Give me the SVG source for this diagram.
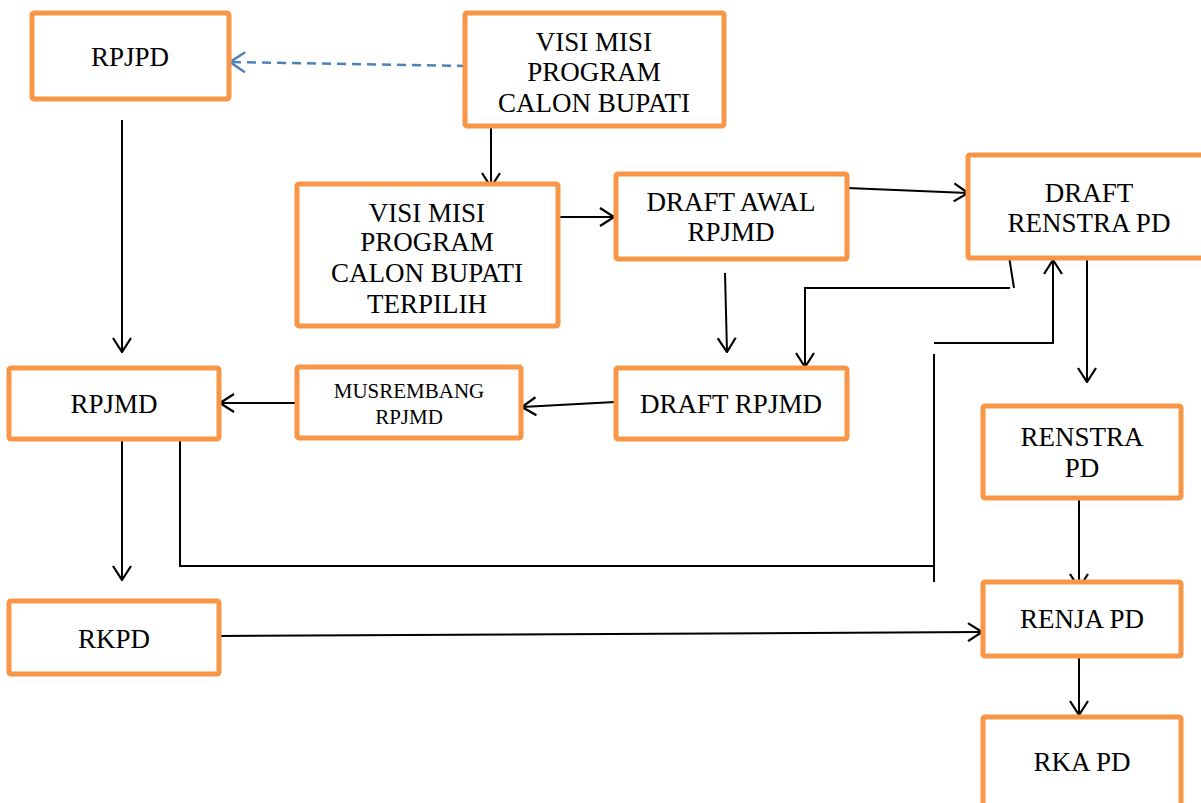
<svg xmlns="http://www.w3.org/2000/svg" width="1201" height="803" viewBox="0 0 1201 803">
<style>
.box{fill:#fff;stroke:#F79646;stroke-width:5;}
.t{font-family:"Liberation Serif","Times New Roman",serif;font-size:27px;fill:#000;text-anchor:middle;}
.ts{font-size:21px;}
.c{fill:none;stroke:#000;stroke-width:2;}
.ca{fill:none;stroke:#000;stroke-width:2;marker-end:url(#ah);}
.cd{fill:none;stroke:#4F81BD;stroke-width:2.5;stroke-dasharray:9 6;marker-end:url(#ahb);}
</style>
<defs>
<marker id="ah" markerUnits="userSpaceOnUse" viewBox="0 0 16 20" refX="15" refY="10" markerWidth="16" markerHeight="20" orient="auto">
<path d="M1,1 L15,10 L1,19" fill="none" stroke="#000" stroke-width="2.2"/>
</marker>
<marker id="ahb" markerUnits="userSpaceOnUse" viewBox="0 0 18 22" refX="16" refY="11" markerWidth="18" markerHeight="22" orient="auto">
<path d="M1,1 L16,11 L1,21" fill="none" stroke="#4F81BD" stroke-width="2.5"/>
</marker>
</defs>
<rect width="1201" height="803" fill="#fff"/>
<g id="connectors">
<path class="cd" d="M466,66 L230,62"/>
<path class="ca" d="M491,126 L491,187"/>
<path class="ca" d="M122,120 L122,352"/>
<path class="ca" d="M558,217 L614,217"/>
<path class="ca" d="M847,188 L968,193"/>
<path class="ca" d="M725,273 L727,352"/>
<path class="c" d="M1008,250 L1014,288"/>
<path class="ca" d="M1010,288 L805,288 L805,367"/>
<path class="ca" d="M934,343 L1053,343 L1053,260"/>
<path class="c" d="M934,354 L934,582"/>
<path class="c" d="M180,439 L180,566 L934,566"/>
<path class="ca" d="M122,439 L122,580"/>
<path class="ca" d="M1087,259 L1087,382"/>
<path class="ca" d="M1079,498 L1079,588"/>
<path class="ca" d="M1079,656 L1079,715"/>
<path class="ca" d="M219,636 L982,632"/>
<path class="ca" d="M615,402 L522,407"/>
<path class="ca" d="M297,403 L220,403"/>
</g>
<g id="rpjpd"><rect class="box" x="32" y="13" width="197" height="86" rx="2"/><text class="t" x="130" y="66">RPJPD</text></g>
<g id="visimisi"><rect class="box" x="465" y="13" width="259" height="113" rx="2"/><text class="t" x="594" y="51">VISI MISI</text><text class="t" x="594" y="81">PROGRAM</text><text class="t" x="594" y="112">CALON BUPATI</text></g>
<g id="terpilih"><rect class="box" x="297" y="184" width="261" height="142" rx="2"/><text class="t" x="427" y="222">VISI MISI</text><text class="t" x="427" y="251">PROGRAM</text><text class="t" x="427" y="282">CALON BUPATI</text><text class="t" x="427" y="313">TERPILIH</text></g>
<g id="draftawal"><rect class="box" x="616" y="174" width="231" height="85" rx="2"/><text class="t" x="731" y="211">DRAFT AWAL</text><text class="t" x="731" y="241">RPJMD</text></g>
<g id="draftrenstra"><rect class="box" x="968" y="155" width="245" height="103" rx="2"/><text class="t" x="1089" y="202">DRAFT</text><text class="t" x="1089" y="232">RENSTRA PD</text></g>
<g id="rpjmd"><rect class="box" x="9" y="368" width="210" height="71" rx="2"/><text class="t" x="114" y="413">RPJMD</text></g>
<g id="musrembang"><rect class="box" x="297" y="367" width="224" height="71" rx="2"/><text class="t ts" x="409" y="398">MUSREMBANG</text><text class="t ts" x="409" y="424">RPJMD</text></g>
<g id="draftrpjmd"><rect class="box" x="616" y="368" width="231" height="71" rx="2"/><text class="t" x="731" y="413">DRAFT RPJMD</text></g>
<g id="renstra"><rect class="box" x="983" y="406" width="198" height="92" rx="2"/><text class="t" x="1082" y="446">RENSTRA</text><text class="t" x="1082" y="477">PD</text></g>
<g id="rkpd"><rect class="box" x="9" y="601" width="210" height="73" rx="2"/><text class="t" x="114" y="648">RKPD</text></g>
<g id="renja"><rect class="box" x="983" y="582" width="198" height="74" rx="2"/><text class="t" x="1082" y="628">RENJA PD</text></g>
<g id="rka"><rect class="box" x="983" y="717" width="198" height="90" rx="2"/><text class="t" x="1082" y="771">RKA PD</text></g>
</svg>
